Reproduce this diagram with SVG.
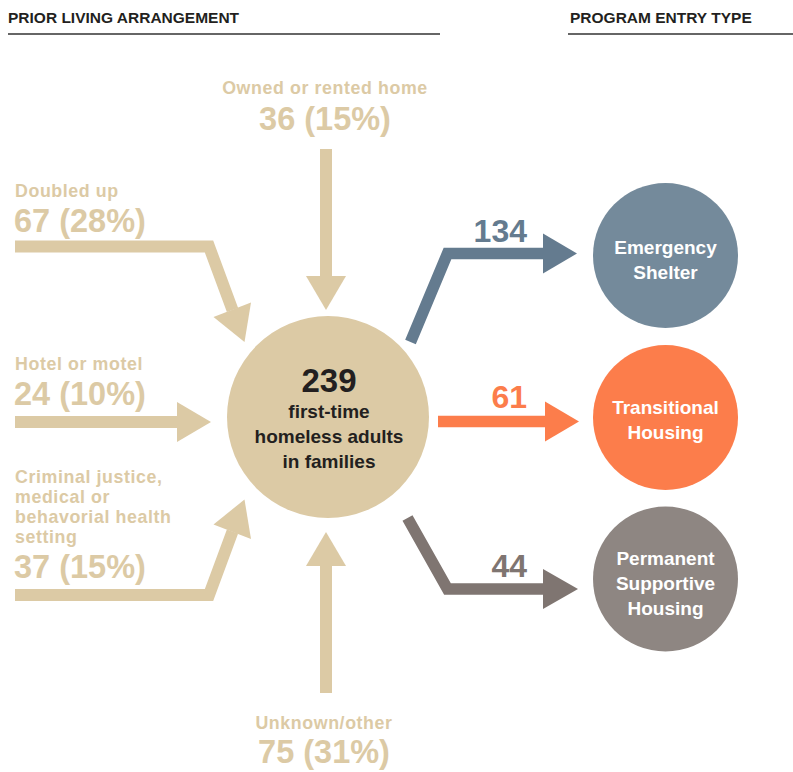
<svg xmlns="http://www.w3.org/2000/svg" width="793" height="772" viewBox="0 0 793 772">
  <style>
    text { font-family: "Liberation Sans", Arial, sans-serif; font-weight: 700; }
    .hdr { font-size: 15.5px; fill: #231f20; }
    .rule { stroke: #333; stroke-width: 1.5; fill: none; }
    .src { fill: #dccaa5; }
    .lbl { font-size: 17.8px; letter-spacing: 0.6px; }
    .num { font-size: 32.5px; }
    .cnt { font-size: 32px; }
    .mid { text-anchor: middle; }
    .end { text-anchor: end; }
    .tan-shaft { stroke: #dccaa5; stroke-width: 12; fill: none; stroke-linejoin: miter; stroke-linecap: butt; }
    .tan-head { fill: #dccaa5; }
    .white { fill: #ffffff; font-size: 19px; }
    .dark { fill: #231f20; }
  </style>

  <!-- column headings -->
  <g id="headings">
    <text class="hdr" x="8" y="23">PRIOR LIVING ARRANGEMENT</text>
    <line class="rule" x1="8" y1="34" x2="440" y2="34"/>
    <text class="hdr" x="570" y="23">PROGRAM ENTRY TYPE</text>
    <line class="rule" x1="568" y1="34" x2="793" y2="34"/>
  </g>

  <!-- flow arrows -->
  <g id="connectors">
    <!-- owned / rented home, from above -->
    <line class="tan-shaft" x1="326" y1="149" x2="326" y2="277"/>
    <polygon class="tan-head" points="306,276 346,276 326,310"/>
    <!-- doubled up -->
    <polyline class="tan-shaft" points="15,246.5 209,246.5 232.5,310"/>
    <polygon class="tan-head" points="251,302.5 213.5,317 244.5,342"/>
    <!-- hotel or motel -->
    <line class="tan-shaft" x1="15" y1="422" x2="178" y2="422"/>
    <polygon class="tan-head" points="177,402 177,442 211,422"/>
    <!-- criminal justice / medical / behavioral -->
    <polyline class="tan-shaft" points="15,595 209,595 232.5,531.5"/>
    <polygon class="tan-head" points="251,539 213.5,524.5 244.5,499.5"/>
    <!-- unknown / other, from below -->
    <line class="tan-shaft" x1="326" y1="693" x2="326" y2="565"/>
    <polygon class="tan-head" points="306,566 346,566 326,532"/>

    <!-- to emergency shelter -->
    <polyline points="410.5,342 447.5,253.5 544,253.5" fill="none" stroke="#647b8f" stroke-width="11.5" stroke-linejoin="miter"/>
    <polygon points="543,233.5 543,273.5 577,253.5" fill="#647b8f"/>
    <!-- to transitional housing -->
    <line x1="438" y1="421.5" x2="546" y2="421.5" stroke="#fc7d4b" stroke-width="11.5"/>
    <polygon points="545,401.5 545,441.5 579,421.5" fill="#fc7d4b"/>
    <!-- to permanent supportive housing -->
    <polyline points="407.5,518 447.5,589 544,589" fill="none" stroke="#7f7571" stroke-width="11.5" stroke-linejoin="miter"/>
    <polygon points="543,569 543,609 578,589" fill="#7f7571"/>
  </g>

  <!-- source labels -->
  <g id="src-owned" class="src">
    <text class="lbl mid" x="325" y="94">Owned or rented home</text>
    <text class="num mid" x="325" y="130">36 (15%)</text>
  </g>
  <g id="src-doubled" class="src">
    <text class="lbl" x="15" y="197">Doubled up</text>
    <text class="num" x="14" y="232">67 (28%)</text>
  </g>
  <g id="src-hotel" class="src">
    <text class="lbl" x="15" y="370">Hotel or motel</text>
    <text class="num" x="14" y="405">24 (10%)</text>
  </g>
  <g id="src-institution" class="src">
    <text class="lbl" x="15" y="483">Criminal justice,</text>
    <text class="lbl" x="15" y="503">medical or</text>
    <text class="lbl" x="15" y="523">behavorial health</text>
    <text class="lbl" x="15" y="543">setting</text>
    <text class="num" x="14" y="578">37 (15%)</text>
  </g>
  <g id="src-unknown" class="src">
    <text class="lbl mid" x="324" y="728.5">Unknown/other</text>
    <text class="num mid" x="324" y="763">75 (31%)</text>
  </g>

  <!-- central total -->
  <g id="total">
    <circle cx="328" cy="417" r="101" fill="#dccaa5"/>
    <text class="dark mid" x="329" y="392" font-size="33">239</text>
    <text class="dark mid" x="329" y="417.5" font-size="19">first-time</text>
    <text class="dark mid" x="329" y="443" font-size="19">homeless adults</text>
    <text class="dark mid" x="329" y="468" font-size="19">in families</text>
  </g>

  <!-- flow counts -->
  <g id="count-es"><text class="cnt end" x="527" y="242" fill="#647b8f">134</text></g>
  <g id="count-th"><text class="cnt end" x="527" y="408" fill="#fc7d4b">61</text></g>
  <g id="count-psh"><text class="cnt end" x="527" y="577" fill="#7f7571">44</text></g>

  <!-- program entry types -->
  <g id="emergency-shelter">
    <circle cx="665.5" cy="255.5" r="72.5" fill="#748a9b"/>
    <text class="white mid" x="665.5" y="254">Emergency</text>
    <text class="white mid" x="665.5" y="279">Shelter</text>
  </g>
  <g id="transitional-housing">
    <circle cx="665.5" cy="417.5" r="72.5" fill="#fc7d4b"/>
    <text class="white mid" x="665.5" y="414">Transitional</text>
    <text class="white mid" x="665.5" y="439">Housing</text>
  </g>
  <g id="permanent-supportive-housing">
    <circle cx="665.5" cy="579" r="72.5" fill="#8e8682"/>
    <text class="white mid" x="665.5" y="565">Permanent</text>
    <text class="white mid" x="665.5" y="590">Supportive</text>
    <text class="white mid" x="665.5" y="615">Housing</text>
  </g>
</svg>
